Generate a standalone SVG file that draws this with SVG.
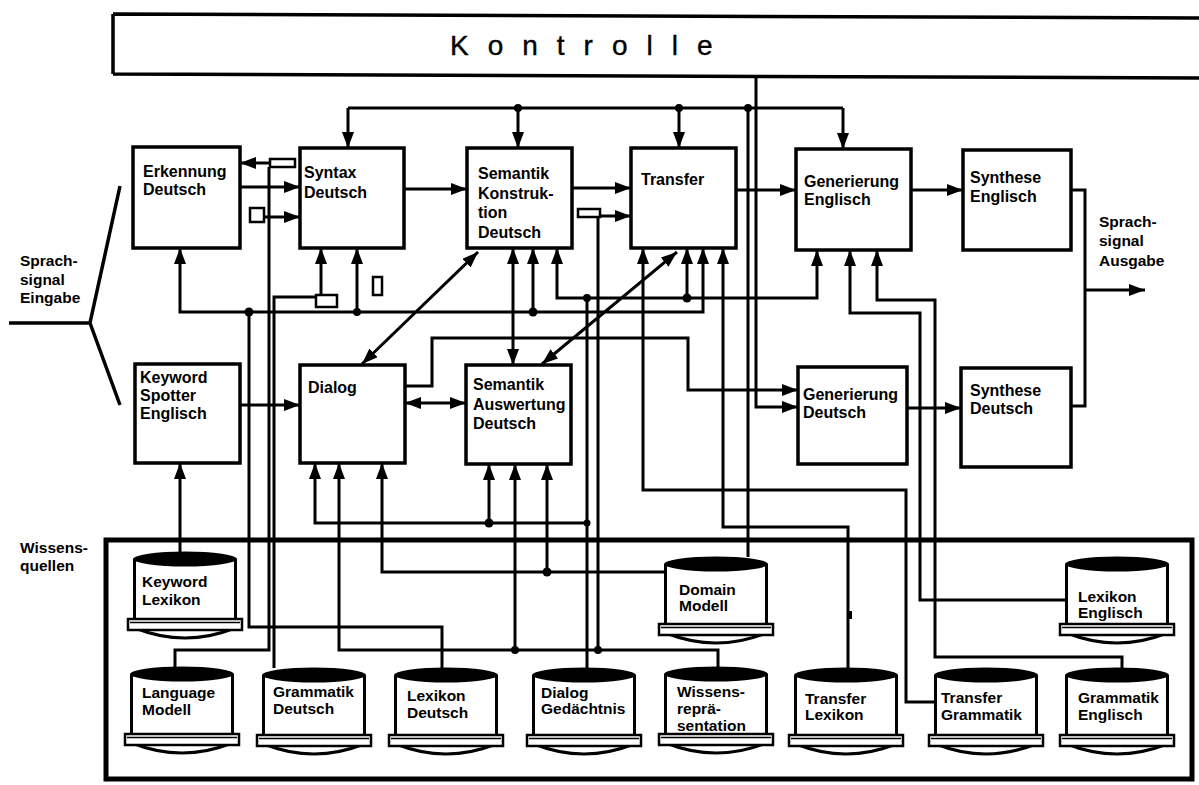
<svg xmlns="http://www.w3.org/2000/svg" width="1199" height="785" viewBox="0 0 1199 785">
<style>
.box{fill:#fff;stroke:#000;stroke-width:3.5}
.w{fill:none;stroke:#000;stroke-width:3;stroke-linejoin:miter}
.a{marker-end:url(#ah)}
.s{marker-start:url(#ah)}
.b{marker-start:url(#ah);marker-end:url(#ah)}
.t{font-family:"Liberation Sans",Arial,sans-serif;font-weight:bold;font-size:16px;fill:#000}
.c{font-family:"Liberation Sans",Arial,sans-serif;font-weight:bold;font-size:15.5px;fill:#000}
.pad{fill:#fff;stroke:#000;stroke-width:2.5}
</style>
<defs>
<marker id="ah" viewBox="0 0 16 12" refX="16" refY="6" markerWidth="16" markerHeight="12" markerUnits="userSpaceOnUse" orient="auto-start-reverse">
<path d="M0,0 L16,6 L0,12 z" fill="#000"/>
</marker>
<symbol id="cyl" overflow="visible">
<path d="M2,76 Q52,96 102,76" fill="#fff" stroke="#000" stroke-width="3"/>
<rect x="1" y="7" width="102" height="63" fill="#fff"/>
<path d="M1.5,7 V70 M102.5,7 V70" fill="none" stroke="#000" stroke-width="3"/>
<ellipse cx="52" cy="7" rx="52" ry="7.5" fill="#000"/>
<rect x="-5" y="67" width="114" height="11" fill="#fff" stroke="#000" stroke-width="2.5"/>
<path d="M-3,70.5 H107" stroke="#000" stroke-width="1.5"/>
</symbol>
</defs>
<rect width="1199" height="785" fill="#fff"/>

<g id="kontrolle">
<path d="M113,14 L1199,18 M113,74 L1199,78 M113,14 V74" fill="none" stroke="#000" stroke-width="3.5"/>
<text x="450" y="55" font-family="Liberation Sans,Arial,sans-serif" font-size="28" letter-spacing="19" stroke="#000" stroke-width="0.4">Kontrolle</text>
</g>

<g id="erkennung"><rect class="box" x="133" y="147" width="107" height="101"/><text class="t" x="143" y="177">Erkennung</text><text class="t" x="143" y="195">Deutsch</text></g>
<g id="syntax"><rect class="box" x="300" y="148" width="104" height="100"/><text class="t" x="304" y="178">Syntax</text><text class="t" x="304" y="198">Deutsch</text></g>
<g id="semk"><rect class="box" x="467" y="148" width="105" height="100"/><text class="t" x="478" y="179">Semantik</text><text class="t" x="478" y="199">Konstruk-</text><text class="t" x="478" y="218">tion</text><text class="t" x="478" y="238">Deutsch</text></g>
<g id="transfer"><rect class="box" x="631" y="148" width="105" height="100"/><text class="t" x="641" y="185">Transfer</text></g>
<g id="gene"><rect class="box" x="796" y="149" width="115" height="101"/><text class="t" x="804" y="187">Generierung</text><text class="t" x="804" y="205">Englisch</text></g>
<g id="synE"><rect class="box" x="963" y="150" width="108" height="100"/><text class="t" x="970" y="183">Synthese</text><text class="t" x="970" y="202">Englisch</text></g>
<g id="ks"><rect class="box" x="135" y="364" width="105" height="99"/><text class="t" x="140" y="383">Keyword</text><text class="t" x="140" y="401">Spotter</text><text class="t" x="140" y="419">Englisch</text></g>
<g id="dialog"><rect class="box" x="300" y="365" width="105" height="98"/><text class="t" x="308" y="393">Dialog</text></g>
<g id="sema"><rect class="box" x="466" y="365" width="105" height="99"/><text class="t" x="473" y="390">Semantik</text><text class="t" x="473" y="410">Auswertung</text><text class="t" x="473" y="429">Deutsch</text></g>
<g id="gend"><rect class="box" x="798" y="367" width="109" height="97"/><text class="t" x="803" y="400">Generierung</text><text class="t" x="803" y="418">Deutsch</text></g>
<g id="synD"><rect class="box" x="961" y="368" width="110" height="99"/><text class="t" x="970" y="396">Synthese</text><text class="t" x="970" y="414">Deutsch</text></g>

<g id="eingabe"><text class="c" x="20" y="266">Sprach-</text><text class="c" x="20" y="285">signal</text><text class="c" x="20" y="303">Eingabe</text>
<path d="M120,186 L90,323 L120,405 M9,323 H90" fill="none" stroke="#000" stroke-width="3.5"/></g>
<g id="ausgabe"><text class="c" x="1099" y="227">Sprach-</text><text class="c" x="1099" y="246">signal</text><text class="c" x="1099" y="266">Ausgabe</text></g>
<g id="wissensquellen"><text class="c" x="20" y="553">Wissens-</text><text class="c" x="20" y="571">quellen</text>
<rect x="106" y="540" width="1086" height="239" fill="none" stroke="#000" stroke-width="5"/></g>

<g id="connectors">
<path class="w" d="M348,108 H843"/>
<path class="w a" d="M348,108 V148"/><path class="w a" d="M518,108 V148"/><path class="w a" d="M679,108 V148"/><path class="w a" d="M843,108 V149"/>
<path class="w" d="M748,108 V557"/>
<path class="w a" d="M756,75 V407 H798"/>
<path class="w a" d="M240,187 H300"/>
<path class="w a" d="M404,189 H467"/>
<path class="w a" d="M572,188 H631"/>
<path class="w a" d="M736,190 H796"/>
<path class="w a" d="M911,190 H963"/>
<path class="w a" d="M270,163 H240"/>
<path class="w a" d="M265,217 H300"/>
<path class="w a" d="M600,216 H631"/>
<path class="w" d="M1071,190 H1085 V406 H1071"/>
<path class="w a" d="M1085,290 H1145"/>
<path class="w a" d="M907,408 H961"/>
<path class="w a" d="M240,405 H300"/>
<path class="w b" d="M405,403 H466"/>
<path class="w a" d="M405,386 H432 V338 H688 V390 H798"/>
<path class="w b" d="M478,252 L362,364"/>
<path class="w b" d="M677,252 L542,364"/>
<path class="w b" d="M513,248 V365"/>
<path class="w b" d="M180,248 V312 H703 V248"/>
<path class="w a" d="M357,312 V248"/><path class="w a" d="M533,312 V248"/>
<path class="w" d="M249,312 V627 H442 V668"/>
<path class="w b" d="M557,248 V298 H817 V250"/>
<path class="w a" d="M687,298 V248"/>
<path class="w" d="M587,298 V668"/>
<path class="w s" d="M315,463 V523 H587"/>
<path class="w a" d="M489,523 V464"/>
<path class="w s" d="M382,463 V572 H664"/>
<path class="w a" d="M547,572 V464"/>
<path class="w s" d="M339,463 V650 H718 V667"/>
<path class="w a" d="M515,650 V464"/>
<path class="w" d="M598,650 V217"/>
<path class="w" d="M175,667 V650 H269 V167"/>
<path class="w" d="M274,668 V297 H316"/>
<path class="w a" d="M321,295 V248"/>
<path class="w a" d="M180,552 V463"/>
<path class="w s" d="M643,248 V490 H906 V702 H934"/>
<path class="w s" d="M723,248 V527 H848 V668"/>
<path class="w s" d="M850,250 V313 H920 V600 H1065"/>
<path class="w s" d="M877,250 V300 H935 V657 H1122 V668"/>
<rect x="847" y="611" width="5" height="8" fill="#000"/>
<rect class="pad" x="270" y="159" width="25" height="8"/>
<rect class="pad" x="250" y="208" width="14" height="14"/>
<rect class="pad" x="316" y="295" width="21" height="12"/>
<rect class="pad" x="373" y="277" width="9" height="18"/>
<rect class="pad" x="578" y="209" width="22" height="8"/>
<g fill="#000">
<circle cx="518" cy="108" r="4"/><circle cx="679" cy="108" r="4"/><circle cx="748" cy="108" r="4"/>
<circle cx="249" cy="312" r="4.5"/><circle cx="357" cy="312" r="4"/><circle cx="533" cy="312" r="4.5"/>
<circle cx="587" cy="298" r="4"/><circle cx="687" cy="298" r="4.5"/>
<circle cx="489" cy="523" r="4.5"/><circle cx="587" cy="523" r="3.5"/>
<circle cx="547" cy="572" r="4.5"/>
<circle cx="515" cy="650" r="4"/><circle cx="598" cy="650" r="4"/>
</g>
</g>

<g id="keyword-lexikon"><use href="#cyl" x="133" y="552"/><text class="c" x="142" y="587">Keyword</text><text class="c" x="142" y="605">Lexikon</text></g>
<g id="domain-modell"><use href="#cyl" x="664" y="557"/><text class="c" x="679" y="595">Domain</text><text class="c" x="679" y="611">Modell</text></g>
<g id="lexikon-englisch"><use href="#cyl" x="1065" y="557"/><text class="c" x="1078" y="602">Lexikon</text><text class="c" x="1078" y="618">Englisch</text></g>
<g id="language-modell"><use href="#cyl" x="130" y="667"/><text class="c" x="142" y="698">Language</text><text class="c" x="142" y="715">Modell</text></g>
<g id="grammatik-deutsch"><use href="#cyl" x="262" y="668"/><text class="c" x="273" y="697">Grammatik</text><text class="c" x="273" y="714">Deutsch</text></g>
<g id="lexikon-deutsch"><use href="#cyl" x="394" y="668"/><text class="c" x="407" y="701">Lexikon</text><text class="c" x="407" y="718">Deutsch</text></g>
<g id="dialog-gedaechtnis"><use href="#cyl" x="532" y="668"/><text class="c" x="541" y="698">Dialog</text><text class="c" x="541" y="714">Gedächtnis</text></g>
<g id="wissensrep"><use href="#cyl" x="664" y="667"/><text class="c" x="677" y="697">Wissens-</text><text class="c" x="677" y="714">reprä-</text><text class="c" x="677" y="731">sentation</text></g>
<g id="transfer-lexikon"><use href="#cyl" x="794" y="668"/><text class="c" x="805" y="704">Transfer</text><text class="c" x="805" y="720">Lexikon</text></g>
<g id="transfer-grammatik"><use href="#cyl" x="934" y="668"/><text class="c" x="941" y="703">Transfer</text><text class="c" x="941" y="720">Grammatik</text></g>
<g id="grammatik-englisch"><use href="#cyl" x="1065" y="668"/><text class="c" x="1078" y="703">Grammatik</text><text class="c" x="1078" y="720">Englisch</text></g>
</svg>
